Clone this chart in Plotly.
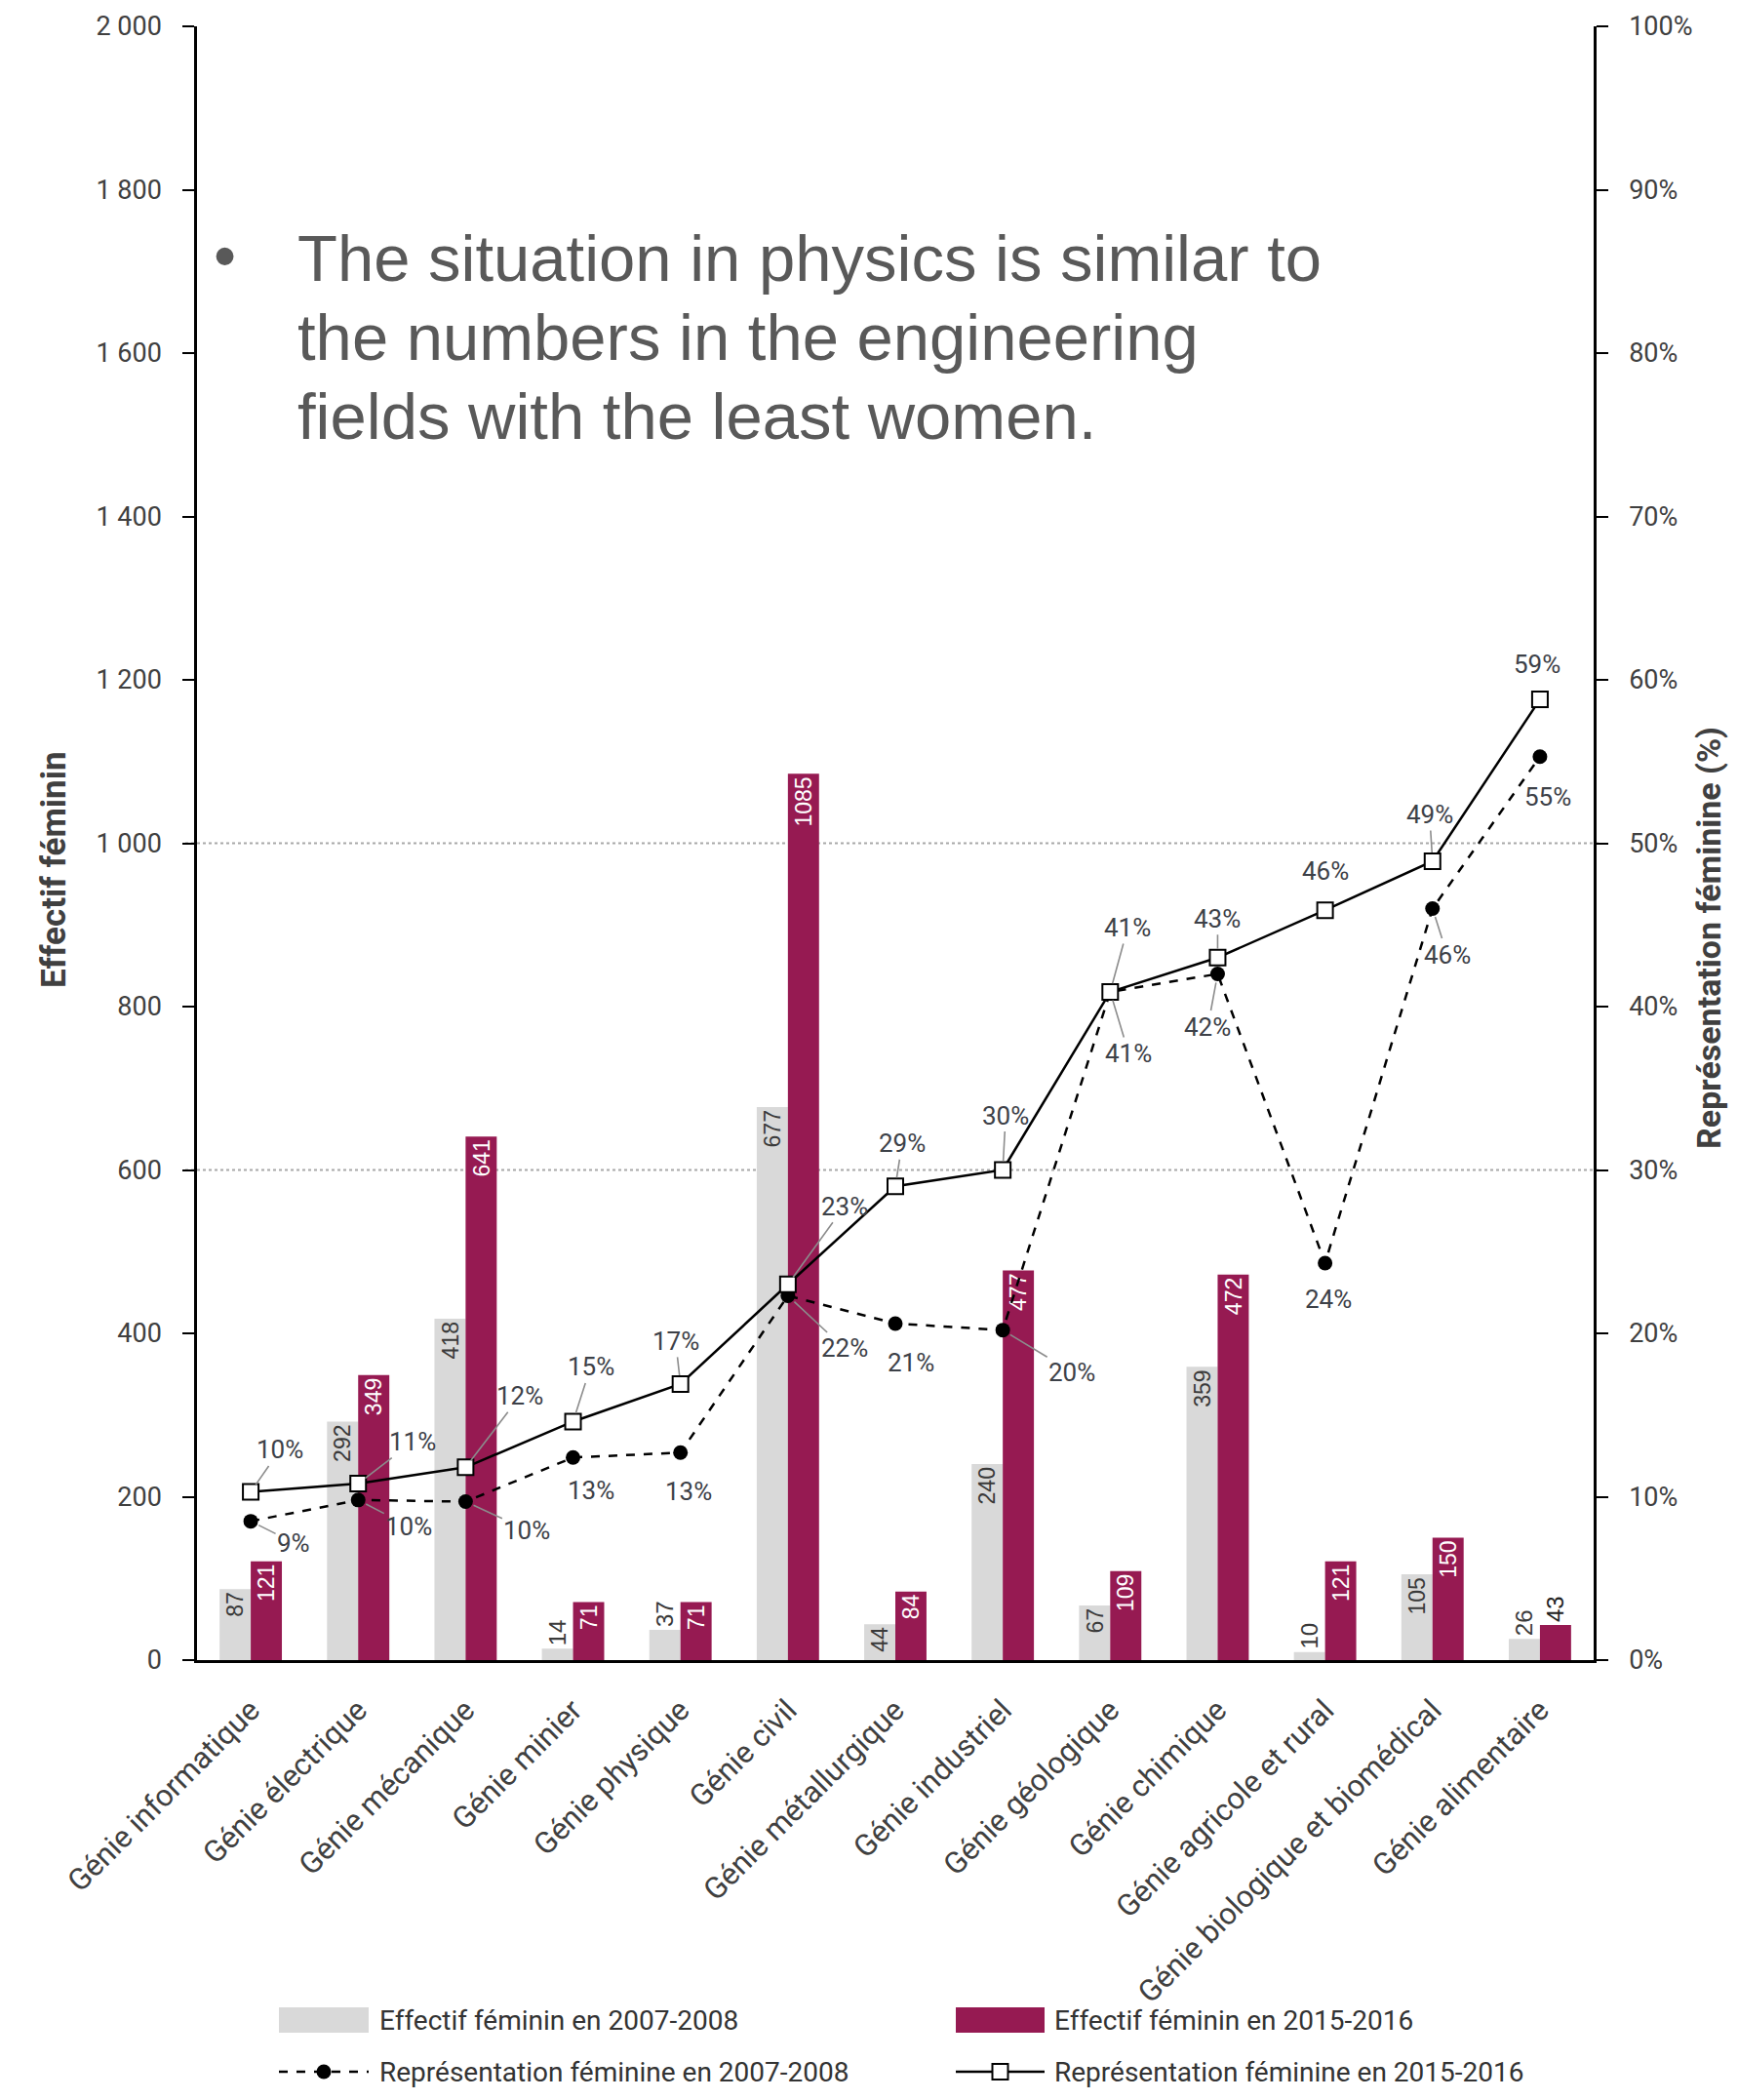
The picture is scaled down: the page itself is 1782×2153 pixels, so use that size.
import plotly.graph_objects as go

# ---------------- data ----------------
categories = [
    "Génie informatique", "Génie électrique", "Génie mécanique", "Génie minier",
    "Génie physique", "Génie civil", "Génie métallurgique", "Génie industriel",
    "Génie géologique", "Génie chimique", "Génie agricole et rural",
    "Génie biologique et biomédical", "Génie alimentaire",
]
effectif_2007 = [87, 292, 418, 14, 37, 677, 44, 240, 67, 359, 10, 105, 26]
effectif_2015 = [121, 349, 641, 71, 71, 1085, 84, 477, 109, 472, 121, 150, 43]
repr_2007 = [8.5, 9.8, 9.7, 12.4, 12.7, 22.3, 20.6, 20.2, 40.9, 42.0, 24.3, 46.0, 55.3]
repr_2015 = [10.3, 10.8, 11.8, 14.6, 16.9, 23.0, 29.0, 30.0, 40.9, 43.0, 45.9, 48.9, 58.8]
labels_2007 = ["9%", "10%", "10%", "13%", "13%", "22%", "21%", "20%", "41%", "42%", "24%", "46%", "55%"]
labels_2015 = ["10%", "11%", "12%", "15%", "17%", "23%", "29%", "30%", "41%", "43%", "46%", "49%", "59%"]
left_ticks = [0, 200, 400, 600, 800, 1000, 1200, 1400, 1600, 1800, 2000]
right_ticks = [0, 10, 20, 30, 40, 50, 60, 70, 80, 90, 100]
grid_values = [600, 1000]

legend_names = [
    "Effectif féminin en 2007-2008", "Effectif féminin en 2015-2016",
    "Représentation féminine en 2007-2008", "Représentation féminine en 2015-2016",
]
note_lines = [
    "The situation in physics is similar to",
    "the numbers in the engineering",
    "fields with the least women.",
]

# ---------------- style ----------------
GRAY = "#d9d9d9"
PURPLE = "#961a52"
TXT = "#3d4148"
NARROW = "Roboto, sans-serif"
REG = "Liberation Sans, Arial, sans-serif"

OFF = 8  # page body margin
W, H = 1782 - 2 * OFF, 2153 - 2 * OFF
# plot area in page pixels
L, R, T, B = 202, 1634, 27, 1702
PW, PH = R - L, B - T


def px(x):
    return (x - L) / PW


def py(y):
    return (B - y) / PH


# label offsets (pixels) and whether a leader line is drawn
off_2015 = [(30, -43), (56, -43), (56, -73), (18, -56), (-5, -44), (58, -80), (7, -44),
            (3, -56), (18, -66), (0, -40), (0, -40), (-3, -48), (-3, -36)]
lead_2015 = [1, 1, 1, 1, 1, 1, 1, 1, 1, 1, 0, 1, 0]
off_2007 = [(44, 22), (52, 27), (63, 29), (18, 34), (8, 40), (58, 54), (16, 40),
            (71, 43), (19, 63), (-10, 54), (3, 37), (15, 47), (8, 41)]
lead_2007 = [1, 1, 1, 0, 0, 1, 0, 1, 1, 1, 0, 1, 0]

fig = go.Figure()

fig.add_trace(go.Bar(
    x=categories, y=effectif_2007, name=legend_names[0],
    marker=dict(color=GRAY, line=dict(width=0)),
    text=[str(v) for v in effectif_2007], textangle=-90,
    textposition=["outside" if v < 40 else "inside" for v in effectif_2007],
    insidetextanchor="end",
    insidetextfont=dict(family=REG, size=24, color="#3a3a3a"),
    outsidetextfont=dict(family=REG, size=24, color="#3a3a3a"),
    cliponaxis=False, yaxis="y",
))
fig.add_trace(go.Bar(
    x=categories, y=effectif_2015, name=legend_names[1],
    marker=dict(color=PURPLE, line=dict(width=0)),
    text=[str(v) for v in effectif_2015], textangle=-90,
    textposition=["outside" if v < 50 else "inside" for v in effectif_2015],
    insidetextanchor="end",
    insidetextfont=dict(family=REG, size=24, color="white"),
    outsidetextfont=dict(family=REG, size=24, color="#222222"),
    cliponaxis=False, yaxis="y",
))
fig.add_trace(go.Scatter(
    x=categories, y=repr_2007, name=legend_names[2], mode="lines+markers",
    line=dict(color="black", width=2.5, dash="dash"),
    marker=dict(symbol="circle", size=15, color="black"),
    yaxis="y2", cliponaxis=False,
))
fig.add_trace(go.Scatter(
    x=categories, y=repr_2015, name=legend_names[3], mode="lines+markers",
    line=dict(color="black", width=2.5),
    marker=dict(symbol="square", size=16, color="white", line=dict(color="black", width=2)),
    yaxis="y2", cliponaxis=False,
))

annotations = []
for series, labels, offs, leads in ((repr_2015, labels_2015, off_2015, lead_2015),
                                    (repr_2007, labels_2007, off_2007, lead_2007)):
    for i, (v, lab) in enumerate(zip(series, labels)):
        dx, dy = offs[i]
        common = dict(x=categories[i], y=v, xref="x", yref="y2", text=lab,
                      font=dict(family=NARROW, size=26, color=TXT))
        if leads[i]:
            annotations.append(dict(**common, showarrow=True, arrowhead=0, arrowwidth=1.6,
                                    arrowcolor="#8c8c8c", ax=dx, ay=dy, standoff=9))
        else:
            annotations.append(dict(**common, showarrow=False, xshift=dx, yshift=-dy))

# axis titles
annotations.append(dict(x=px(55), y=py(892), xref="paper", yref="paper", text="<b>Effectif féminin</b>",
                        textangle=-90, showarrow=False, xanchor="center", yanchor="middle",
                        font=dict(family=NARROW, size=35, color="#404040")))
annotations.append(dict(x=px(1752), y=py(962), xref="paper", yref="paper",
                        text="<b>Représentation féminine (%)</b>", textangle=-90, showarrow=False,
                        xanchor="center", yanchor="middle",
                        font=dict(family=NARROW, size=34, color="#404040")))

# note text
annotations.append(dict(x=px(230), y=py(262), xref="paper", yref="paper", text="•", showarrow=False,
                        xanchor="center", yanchor="middle",
                        font=dict(family=REG, size=66, color="#595959")))
for k, line in enumerate(note_lines):
    annotations.append(dict(x=px(303), y=py(265 + 80.5 * k), xref="paper", yref="paper", text=line,
                            showarrow=False, xanchor="left", yanchor="middle",
                            font=dict(family=REG, size=67, color="#595959")))

# grid lines
shapes = []
for g in grid_values:
    shapes.append(dict(type="line", xref="paper", yref="y", x0=px(190), x1=px(1640), y0=g, y1=g,
                       line=dict(color="#a8a8a8", width=2, dash="dot"), layer="below"))

# custom legend
leg_cols = [(286, 378, 387), (980, 1071, 1079)]
leg_rows = [2071, 2124]
for col, color in zip(leg_cols, (GRAY, PURPLE)):
    x0, x1, _ = col
    shapes.append(dict(type="rect", xref="paper", yref="paper", x0=px(x0), x1=px(x1),
                       y0=py(leg_rows[0] - 13), y1=py(leg_rows[0] + 13),
                       fillcolor=color, line=dict(width=0)))
for col, dash in zip(leg_cols, ("dash", "solid")):
    x0, x1, _ = col
    shapes.append(dict(type="line", xref="paper", yref="paper", x0=px(x0), x1=px(x1),
                       y0=py(leg_rows[1]), y1=py(leg_rows[1]),
                       line=dict(color="black", width=2.5, dash=dash)))
cx = (leg_cols[0][0] + leg_cols[0][1]) / 2
shapes.append(dict(type="circle", xref="paper", yref="paper", x0=px(cx - 7.5), x1=px(cx + 7.5),
                   y0=py(leg_rows[1] - 7.5), y1=py(leg_rows[1] + 7.5), fillcolor="black",
                   line=dict(width=0)))
cx = (leg_cols[1][0] + leg_cols[1][1]) / 2
shapes.append(dict(type="rect", xref="paper", yref="paper", x0=px(cx - 8), x1=px(cx + 8),
                   y0=py(leg_rows[1] - 8), y1=py(leg_rows[1] + 8), fillcolor="white",
                   line=dict(color="black", width=2)))
for idx, name in enumerate(legend_names):
    r, c = divmod(idx, 2)
    annotations.append(dict(x=px(leg_cols[c][2]), y=py(leg_rows[r]), xref="paper", yref="paper",
                            text=name, showarrow=False, xanchor="left", yanchor="middle",
                            font=dict(family=NARROW, size=28, color="#333333")))

fig.update_layout(
    width=W, height=H,
    margin=dict(l=L - OFF, r=W - (R - OFF), t=T - OFF, b=H - (B - OFF)),
    plot_bgcolor="white", paper_bgcolor="white",
    barmode="group", bargap=0.42, bargroupgap=0,
    showlegend=False,
    xaxis=dict(
        range=[-0.5, len(categories) - 0.5], tickangle=-45, ticks="", automargin=False,
        showline=True, linecolor="black", linewidth=2.5, showgrid=False, zeroline=False,
        tickfont=dict(family=NARROW, size=31, color="#404040"), ticklabelstandoff=18,
    ),
    yaxis=dict(
        range=[0, 2000], tickvals=left_ticks, automargin=False,
        ticktext=[f"{v:,}".replace(",", " ") for v in left_ticks],
        ticks="outside", ticklen=12, tickwidth=2, tickcolor="black",
        showline=True, linecolor="black", linewidth=2.5, showgrid=False, zeroline=False,
        tickfont=dict(family=NARROW, size=27, color="#404040"), ticklabelstandoff=16,
    ),
    yaxis2=dict(
        range=[0, 100], tickvals=right_ticks, ticktext=[f"{v}%" for v in right_ticks],
        overlaying="y", side="right", automargin=False,
        ticks="outside", ticklen=12, tickwidth=2, tickcolor="black",
        showline=True, linecolor="black", linewidth=2.5, showgrid=False, zeroline=False,
        tickfont=dict(family=NARROW, size=27, color="#404040"), ticklabelstandoff=16,
    ),
    annotations=annotations,
    shapes=shapes,
)

fig.write_html("out.html")
